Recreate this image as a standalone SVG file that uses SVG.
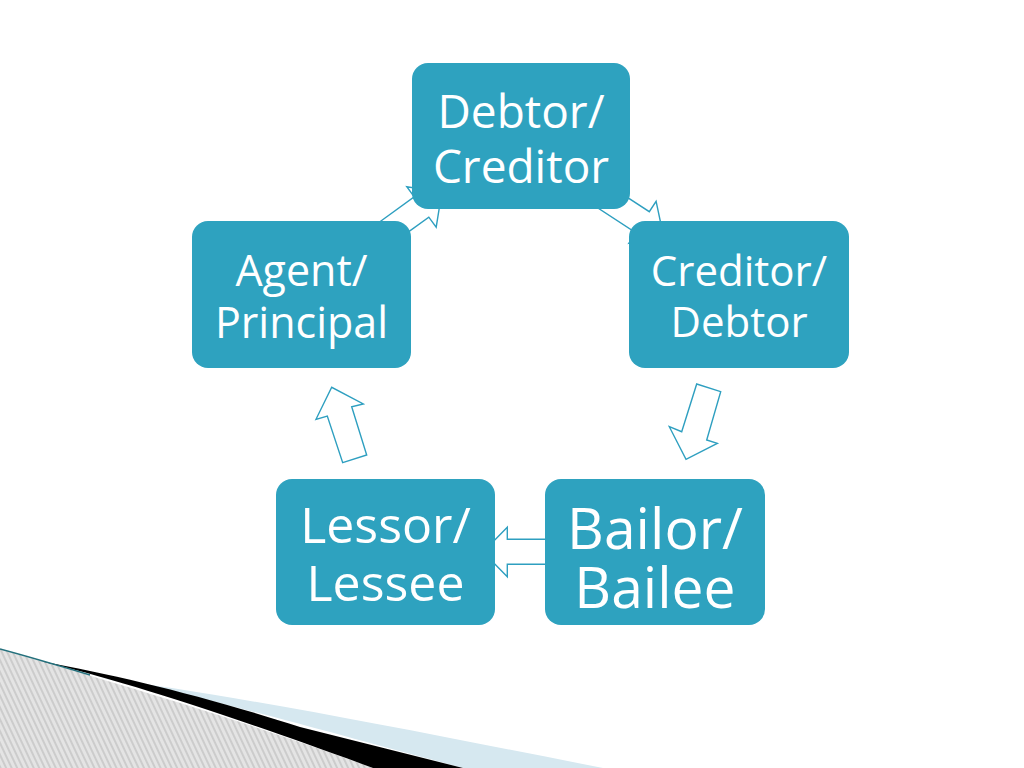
<svg xmlns="http://www.w3.org/2000/svg" width="1024" height="768" viewBox="0 0 1024 768">
  <style>
    .box { fill: #2ea2bf; }
    .lbl { fill: #ffffff; font-family: "Open Sans", "Noto Sans", "DejaVu Sans", sans-serif; text-anchor: middle; }
    .arr { fill: #ffffff; stroke: #2e9fc0; stroke-width: 1.4; stroke-linejoin: miter; }
  </style>
  <defs>
    <pattern id="hatch" patternUnits="userSpaceOnUse" width="5" height="10" patternTransform="rotate(-25)">
      <rect width="5" height="10" fill="#e4e4e4"/>
      <line x1="1" y1="0" x2="1" y2="10" stroke="#b4b4b4" stroke-width="1"/>
    </pattern>
  </defs>
  <rect width="1024" height="768" fill="#ffffff"/>

  <!-- bottom-left decoration -->
  <g id="decoration">
    <path d="M0,649 C90,676 220,712 373,768 L0,768 Z" fill="url(#hatch)"/>
    <path d="M100,678 C230,694 420,732 603,768 L463,768 C300,725 200,694 100,678 Z" fill="#d6e8f0"/>
    <path d="M40,661 C120,676 200,695 300,727 L463,768 L373,768 C220,712 120,680 40,661 Z" fill="#000000"/>
    <path d="M0,649 C30,657 60,666 90,675" fill="none" stroke="#24707c" stroke-width="1.5"/>
  </g>

  <!-- connectors -->
  <g id="connectors">
    <polygon class="arr" points="373.7,226.2 414.2,196.8 406.8,186.7 441.8,192.3 436.2,227.2 428.8,217.1 388.3,246.4"/>
    <polygon class="arr" points="607.4,184.4 649.3,211.7 656.1,201.3 663.4,235.8 628.9,243.2 635.7,232.7 593.8,205.4"/>
    <polygon class="arr" points="696.7,384 720.7,391.7 706.7,440 717.3,443.3 686,459.3 669.3,426.7 681.7,431.7"/>
    <polygon class="arr" points="558,539.3 507.3,539.3 507.3,527.3 483,552 507.3,576.7 507.3,564.3 558,564.3"/>
    <polygon class="arr" points="342.7,462.7 366.7,455 351.7,406.7 363.3,404 331.7,387.3 316,419.3 327.3,416"/>
  </g>

  <!-- nodes -->
  <g id="node-debtor-creditor">
    <rect class="box" x="412" y="63" width="218" height="146" rx="16"/>
    <text class="lbl" x="521" y="128" font-size="46">Debtor/</text>
    <text class="lbl" x="521" y="183" font-size="46">Creditor</text>
  </g>
  <g id="node-creditor-debtor">
    <rect class="box" x="629" y="221" width="220" height="147" rx="16"/>
    <text class="lbl" x="739" y="286" font-size="42">Creditor/</text>
    <text class="lbl" x="739" y="337" font-size="42">Debtor</text>
  </g>
  <g id="node-bailor-bailee">
    <rect class="box" x="545" y="479" width="220" height="146" rx="16"/>
    <text class="lbl" x="655" y="549" font-size="57">Bailor/</text>
    <text class="lbl" x="655" y="608" font-size="57">Bailee</text>
  </g>
  <g id="node-lessor-lessee">
    <rect class="box" x="276" y="479" width="219" height="146" rx="16"/>
    <text class="lbl" x="385.5" y="543" font-size="50">Lessor/</text>
    <text class="lbl" x="385.5" y="601" font-size="50">Lessee</text>
  </g>
  <g id="node-agent-principal">
    <rect class="box" x="192" y="221" width="219" height="147" rx="16"/>
    <text class="lbl" x="301.5" y="286" font-size="43">Agent/</text>
    <text class="lbl" x="301.5" y="338" font-size="43">Principal</text>
  </g>
</svg>
